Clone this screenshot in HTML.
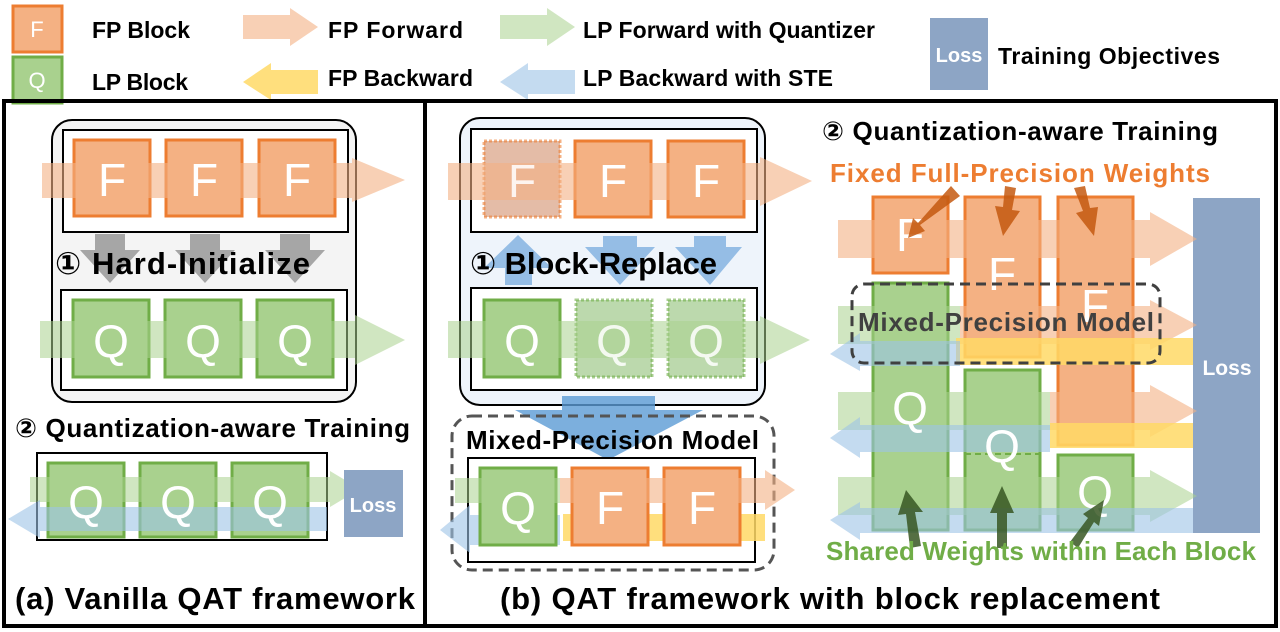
<!DOCTYPE html>
<html><head><meta charset="utf-8"><style>
html,body{margin:0;padding:0;background:#fff;}
svg{display:block;font-family:"Liberation Sans","DejaVu Sans",sans-serif;font-weight:bold;}
</style></head><body>
<svg width="1280" height="632" viewBox="0 0 1280 632" xmlns="http://www.w3.org/2000/svg">
<defs>
<style>
.fb{fill:#f4b183;stroke:#ed7d31;stroke-width:3}
.qb{fill:#a9d18e;stroke:#70ad47;stroke-width:3}
.fbd{fill:#d9a081;fill-opacity:.7;stroke:#ed7d31;stroke-width:3;stroke-dasharray:3 2;stroke-opacity:.6}
.qbd{fill:#8fbf76;fill-opacity:.6;stroke:#70ad47;stroke-width:3;stroke-dasharray:3 2;stroke-opacity:.6}
.bt{fill:#fff;font-weight:normal;font-size:46px;text-anchor:middle}
.of{fill:#f4b183;opacity:.6}
.gf{fill:#a9d18e;opacity:.55}
.yb{fill:#ffd966;opacity:.85}
.bb{fill:#9dc3e6;opacity:.6}
</style>
</defs>

<!-- Legend -->
<rect x="13" y="6" width="49" height="46" class="fb"/><text x="37" y="37" class="bt" style="font-size:22px">F</text>
<rect x="13" y="57" width="49" height="46" class="qb"/><text x="37" y="88" class="bt" style="font-size:22px">Q</text>
<text x="92" y="38" font-size="23" textLength="98">FP Block</text>
<text x="92" y="90" font-size="23" textLength="96">LP Block</text>
<polygon class="of" points="243,15 290,15 290,8 318,27 290,46 290,39 243,39"/>
<text x="328" y="38" font-size="23" textLength="135">FP Forward</text>
<polygon class="yb" points="318,70 271,70 271,63 243,82 271,100 271,94 318,94"/>
<text x="328" y="86" font-size="23" textLength="145">FP Backward</text>
<polygon class="gf" points="500,15 547,15 547,8 575,27 547,46 547,39 500,39"/>
<text x="583" y="38" font-size="23" textLength="292">LP Forward with Quantizer</text>
<polygon class="bb" points="575,70 528,70 528,63 500,82 528,100 528,94 575,94"/>
<text x="583" y="86" font-size="23" textLength="250">LP Backward with STE</text>
<rect x="930" y="18" width="58" height="72" fill="#8da5c5"/>
<text x="959" y="62" fill="#fff" font-size="20" text-anchor="middle">Loss</text>
<text x="998" y="64" font-size="23" textLength="222">Training Objectives</text>

<!-- frames -->
<rect x="4" y="101" width="1272" height="525" fill="none" stroke="#000" stroke-width="4"/>
<line x1="425" y1="101" x2="425" y2="626" stroke="#000" stroke-width="4"/>

<!-- Left panel -->
<rect x="52" y="120" width="304" height="282" rx="20" fill="#f4f4f4" stroke="#000" stroke-width="2"/>
<rect x="63" y="130" width="285" height="102" fill="#fff" stroke="#000" stroke-width="2"/>
<rect x="61" y="290" width="286" height="100" fill="#fff" stroke="#000" stroke-width="2"/>
<rect x="74" y="140" width="76" height="76" class="fb"/>
<rect x="166" y="140" width="76" height="76" class="fb"/>
<rect x="259" y="140" width="76" height="76" class="fb"/>
<polygon class="of" points="42,163 352,163 352,158 405,180 352,202 352,198 42,198"/>
<text x="112" y="196" class="bt">F</text><text x="204" y="196" class="bt">F</text><text x="297" y="196" class="bt">F</text>
<g fill="#a6a6a6">
<polygon points="95,234 125,234 125,250 140,250 110,283 80,250 95,250"/>
<polygon points="190,234 220,234 220,250 235,250 205,283 175,250 190,250"/>
<polygon points="280,234 310,234 310,250 325,250 295,283 265,250 280,250"/>
</g>
<text x="55" y="274" font-size="31" textLength="255">① Hard-Initialize</text>
<rect x="73" y="300" width="76" height="77" class="qb"/>
<rect x="165" y="300" width="76" height="77" class="qb"/>
<rect x="257" y="300" width="76" height="77" class="qb"/>
<polygon class="gf" points="40,321 355,321 355,315 405,340 355,365 355,358 40,358"/>
<text x="111" y="357" class="bt">Q</text><text x="203" y="357" class="bt">Q</text><text x="295" y="357" class="bt">Q</text>

<text x="15" y="437" font-size="26" textLength="395">② Quantization-aware Training</text>
<rect x="37" y="453" width="290" height="87" fill="#fff" stroke="#000" stroke-width="2"/>
<rect x="48" y="463" width="76" height="74" class="qb"/>
<rect x="140" y="463" width="76" height="74" class="qb"/>
<rect x="232" y="463" width="76" height="74" class="qb"/>
<polygon class="gf" points="30,477 330,477 330,471 360,489 330,507 330,502 30,502"/>
<polygon class="bb" points="327,507 40,507 40,500 8,519 40,538 40,531 327,531"/>
<text x="86" y="518" class="bt">Q</text><text x="178" y="518" class="bt">Q</text><text x="270" y="518" class="bt">Q</text>
<rect x="344" y="470" width="59" height="67" fill="#8da5c5"/>
<text x="373" y="512" fill="#fff" font-size="20" text-anchor="middle">Loss</text>
<text x="15" y="609" font-size="31" textLength="400">(a) Vanilla QAT framework</text>

<!-- Middle panel -->
<rect x="460" y="118" width="305" height="287" rx="20" fill="#eef4fb" stroke="#000" stroke-width="2"/>
<rect x="471" y="129" width="286" height="103" fill="#fff" stroke="#000" stroke-width="2"/>
<rect x="471" y="288" width="286" height="102" fill="#fff" stroke="#000" stroke-width="2"/>
<rect x="484" y="141" width="76" height="76" class="fbd"/>
<rect x="575" y="141" width="76" height="76" class="fb"/>
<rect x="668" y="141" width="76" height="76" class="fb"/>
<polygon class="of" points="448,163 760,163 760,157 812,181 760,206 760,200 448,200"/>
<text x="522" y="197" class="bt" fill-opacity=".85">F</text><text x="613" y="197" class="bt">F</text><text x="706" y="197" class="bt">F</text>
<g fill="#7fb0e0" opacity=".8">
<polygon points="505,285 532,285 532,268 552,268 518,235 484,268 505,268"/>
<polygon points="603,236 637,236 637,247 655,247 620,285 585,247 603,247"/>
<polygon points="694,236 726,236 726,247 742,247 710,285 675,247 694,247"/>
</g>
<text x="470" y="274" font-size="31" textLength="247">① Block-Replace</text>
<rect x="484" y="300" width="76" height="77" class="qb"/>
<rect x="576" y="300" width="76" height="77" class="qbd"/>
<rect x="668" y="300" width="76" height="77" class="qbd"/>
<polygon class="gf" points="448,321 760,321 760,316 810,340 760,364 760,358 448,358"/>
<text x="522" y="357" class="bt">Q</text><text x="614" y="357" class="bt" fill-opacity=".85">Q</text><text x="706" y="357" class="bt" fill-opacity=".85">Q</text>
<polygon fill="#5b9bd5" opacity=".8" points="562,396 655,396 655,410 703,410 608,460 515,410 562,410"/>
<rect x="452" y="416" width="322" height="154" rx="20" fill="none" stroke="#555" stroke-width="3" stroke-dasharray="10 6"/>
<text x="466" y="449" font-size="26" textLength="293">Mixed-Precision Model</text>
<rect x="468" y="458" width="287" height="104" fill="#fff" stroke="#000" stroke-width="2"/>
<rect x="563" y="514" width="202" height="27" class="yb"/>
<polygon class="bb" points="560,515 470,515 470,505 440,530 470,553 470,545 560,545"/>
<rect x="480" y="468" width="76" height="77" class="qb"/>
<rect x="572" y="468" width="76" height="77" class="fb"/>
<rect x="664" y="468" width="76" height="77" class="fb"/>
<rect x="455" y="478" width="105" height="25" class="gf"/>
<polygon class="of" points="560,478 765,478 765,470 795,490 765,510 765,503 560,503"/>
<text x="518" y="524" class="bt">Q</text><text x="610" y="524" class="bt">F</text><text x="702" y="524" class="bt">F</text>
<text x="500" y="609" font-size="31" textLength="660">(b) QAT framework with block replacement</text>

<!-- Right panel -->
<text x="822" y="140" font-size="26" textLength="396">② Quantization-aware Training</text>
<text x="830" y="182" font-size="26" fill="#ed7d31" textLength="380">Fixed Full-Precision Weights</text>
<rect x="1193" y="198" width="67" height="335" fill="#8da5c5"/>
<text x="1227" y="375" fill="#fff" font-size="21" text-anchor="middle">Loss</text>
<rect x="873" y="197" width="75" height="76" class="fb"/>
<rect x="965" y="197" width="75" height="160" class="fb"/>
<rect x="1058" y="197" width="75" height="248" class="fb"/>
<rect x="873" y="283" width="75" height="247" class="qb"/>
<rect x="965" y="370" width="75" height="160" class="qb"/>
<line x1="965" y1="454" x2="1040" y2="454" stroke="#70ad47" stroke-width="2" stroke-dasharray="6 4"/>
<rect x="1058" y="455" width="75" height="75" class="qb"/>
<polygon class="of" points="838,220 1150,220 1150,212 1197,239 1150,266 1150,258 838,258"/>
<rect x="838" y="306" width="122" height="38" class="gf"/>
<polygon class="of" points="960,306 1150,306 1150,300 1197,325 1150,350 1150,344 960,344"/>
<rect x="956" y="338" width="237" height="27" class="yb" opacity=".7"/>
<polygon class="bb" points="960,341 860,341 860,333 830,354 860,371 860,366 960,366"/>
<rect x="838" y="392" width="212" height="38" class="gf"/>
<polygon class="of" points="1050,392 1150,392 1150,385 1197,411 1150,437 1150,430 1050,430"/>
<rect x="1050" y="423" width="143" height="25" class="yb" opacity=".7"/>
<polygon class="bb" points="1050,425 860,425 860,417 830,438 860,458 860,452 1050,452"/>
<polygon class="gf" points="838,477 1150,477 1150,470 1197,496 1150,522 1150,515 838,515"/>
<polygon class="bb" points="1193,508 860,508 860,502 830,520 860,540 860,533 1193,533"/>
<text x="910" y="251" class="bt">F</text>
<text x="1002" y="290" class="bt">F</text>
<text x="1095" y="322" class="bt">F</text>
<text x="910" y="424" class="bt">Q</text>
<text x="1002" y="462" class="bt">Q</text>
<text x="1095" y="508" class="bt">Q</text>
<rect x="852" y="284" width="308" height="79" rx="12" fill="none" stroke="#404040" stroke-width="3" stroke-dasharray="10 6"/>
<text x="858" y="331" font-size="26" fill="#404040" textLength="296">Mixed-Precision Model</text>
<g fill="#c55a11" opacity=".85">
<polygon points="951,186 960,196 920,225 925,231 908,238 913,218 918,223"/>
<polygon points="1005,186 1016,188 1012,210 1020,211 1003,236 995,206 1003,207"/>
<polygon points="1074,188 1085,186 1090,208 1098,207 1094,236 1076,213 1083,211"/>
</g>
<g fill="#385723" opacity=".85">
<polygon points="910,548 921,546 915,512 923,512 906,490 898,515 906,514"/>
<polygon points="997,548 1007,548 1007,513 1014,513 1002,486 990,513 997,513"/>
<polygon points="1070,542 1078,548 1094,522 1099,526 1104,500 1083,514 1088,518"/>
</g>
<text x="826" y="560" font-size="26" fill="#70ad47" textLength="430">Shared Weights within Each Block</text>
</svg>
</body></html>
